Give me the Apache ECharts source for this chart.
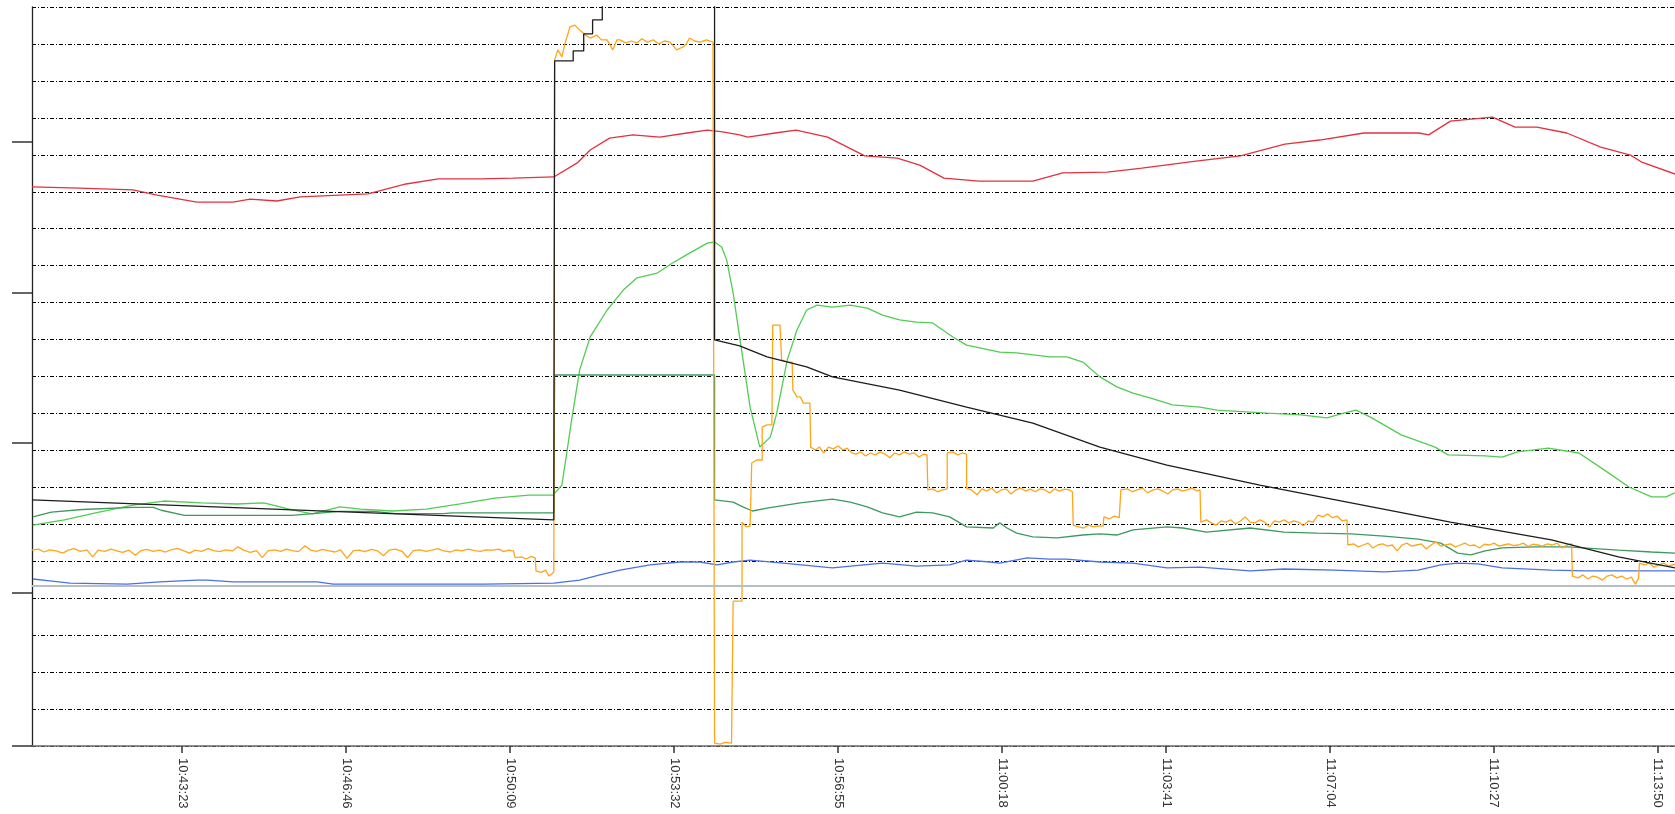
<!DOCTYPE html>
<html><head><meta charset="utf-8">
<script src="https://cdn.jsdelivr.net/npm/echarts@6/dist/echarts.min.js"></script>
<style>html,body{margin:0;padding:0;background:#fff}#c{width:1675px;height:814px}</style>
</head><body><div id="c"></div>
<script>
// Time axis: seconds after START_TIME
const START_TIME = '10:40:17';
const END_OFFSET = 2034;
const xTickLabels = ['10:43:23','10:46:46','10:50:09','10:53:32','10:56:55','11:00:18','11:03:41','11:07:04','11:10:27','11:13:50'];
// y values are in grid units (one dash-dot gridline per unit, 0..20)
const yMin = 0, yMax = 20, yStep = 1;
const yTickMarks = [0, 4.14, 8.20, 12.26, 16.35];
const refLevel = 4.33;

const redSeries = [[0,15.13],[59,15.10],[125,15.05],[155,14.91],[204,14.72],[249,14.72],[270,14.80],[303,14.75],[332,14.86],[416,14.94],[463,15.21],[503,15.35],[556,15.35],[595,15.37],[646,15.40],[675,15.78],[691,16.13],[715,16.45],[744,16.54],[777,16.48],[811,16.59],[836,16.67],[855,16.62],[876,16.54],[886,16.48],[920,16.59],[946,16.67],[985,16.48],[1031,15.97],[1071,15.91],[1074,15.89],[1099,15.72],[1129,15.37],[1172,15.29],[1239,15.29],[1276,15.51],[1331,15.53],[1374,15.64],[1441,15.83],[1496,15.97],[1551,16.29],[1594,16.40],[1649,16.59],[1717,16.59],[1729,16.54],[1756,16.91],[1808,17.02],[1836,16.75],[1863,16.75],[1900,16.59],[1942,16.21],[1979,15.99],[1992,15.81],[2034,15.48]];

const greenSeries = [[1,5.98],[40,6.12],[83,6.33],[125,6.52],[163,6.63],[210,6.58],[254,6.55],[287,6.58],[322,6.39],[347,6.28],[381,6.47],[407,6.41],[446,6.36],[488,6.41],[530,6.55],[573,6.71],[615,6.79],[645,6.79],[656,7.06],[662,7.93],[668,8.82],[678,10.18],[691,11.07],[712,11.80],[732,12.34],[749,12.67],[774,12.80],[793,13.07],[814,13.34],[836,13.61],[845,13.64],[854,13.50],[860,13.15],[868,12.26],[876,11.07],[889,9.17],[901,8.09],[914,8.36],[922,9.01],[935,10.45],[947,11.26],[959,11.80],[972,11.93],[991,11.88],[1013,11.93],[1034,11.85],[1053,11.66],[1074,11.53],[1095,11.47],[1115,11.45],[1140,11.07],[1157,10.85],[1198,10.66],[1219,10.64],[1260,10.53],[1281,10.53],[1301,10.39],[1322,9.99],[1343,9.72],[1363,9.55],[1384,9.42],[1412,9.23],[1446,9.17],[1467,9.09],[1529,9.01],[1571,8.96],[1603,8.88],[1624,9.01],[1639,9.09],[1657,8.90],[1695,8.42],[1737,8.09],[1753,7.88],[1799,7.85],[1820,7.82],[1839,7.96],[1877,8.06],[1915,7.93],[1943,7.52],[1977,7.01],[2005,6.74],[2023,6.74],[2034,6.85]];

const tealSeries = [[1,6.20],[24,6.33],[62,6.40],[125,6.46],[150,6.46],[160,6.38],[189,6.24],[322,6.24],[381,6.35],[423,6.35],[450,6.29],[509,6.29],[520,6.31],[646,6.31],[647,10.04],[845,10.04],[845,6.66],[868,6.60],[880,6.47],[892,6.36],[910,6.44],[951,6.58],[991,6.68],[1013,6.60],[1034,6.47],[1053,6.31],[1074,6.20],[1095,6.33],[1115,6.31],[1136,6.20],[1157,5.93],[1190,5.90],[1198,6.04],[1207,5.90],[1219,5.76],[1239,5.66],[1269,5.63],[1301,5.71],[1322,5.74],[1343,5.71],[1363,5.85],[1405,5.93],[1425,5.90],[1454,5.79],[1508,5.90],[1550,5.79],[1591,5.76],[1633,5.74],[1674,5.68],[1716,5.60],[1744,5.49],[1765,5.22],[1781,5.17],[1799,5.28],[1820,5.36],[1860,5.39],[1901,5.39],[1964,5.30],[2005,5.25],[2034,5.22]];

const blueSeries = [[1,4.52],[22,4.47],[47,4.41],[118,4.38],[158,4.44],[204,4.49],[217,4.49],[249,4.44],[311,4.44],[353,4.44],[373,4.38],[456,4.38],[560,4.38],[646,4.41],[678,4.49],[703,4.63],[728,4.76],[765,4.90],[802,4.98],[827,4.98],[848,4.90],[868,4.98],[889,5.03],[930,4.95],[991,4.82],[1053,4.95],[1095,4.87],[1136,4.90],[1157,5.03],[1186,4.98],[1198,4.95],[1232,5.09],[1260,5.06],[1281,5.06],[1322,4.98],[1363,4.95],[1405,4.82],[1446,4.84],[1508,4.74],[1550,4.79],[1612,4.76],[1674,4.71],[1716,4.76],[1744,4.90],[1765,4.95],[1790,4.93],[1820,4.82],[1881,4.76],[1922,4.74],[2034,4.74]];

const blackSeries = [[0,6.66],[646,6.12],[647,18.54],[670,18.54],[670,18.81],[683,18.81],[683,19.27],[694,19.27],[694,19.65],[706,19.65],[706,20.10],[716,20.10],[716,20.60],[730,20.60],[730,21.10],[845,21.50],[845,10.99],[876,10.83],[910,10.53],[959,10.26],[991,9.99],[1074,9.63],[1157,9.17],[1239,8.74],[1322,8.09],[1405,7.60],[1520,7.06],[1633,6.58],[1756,6.06],[1881,5.58],[1964,5.12],[2034,4.82]];

const orangeSeries = [[0,5.30],[8,5.33],[15,5.25],[22,5.31],[30,5.28],[38,5.22],[45,5.30],[52,5.34],[60,5.27],[68,5.31],[75,5.12],[82,5.30],[90,5.27],[98,5.33],[105,5.28],[112,5.24],[120,5.30],[128,5.16],[135,5.29],[142,5.32],[150,5.27],[158,5.30],[165,5.25],[172,5.31],[180,5.35],[188,5.28],[195,5.22],[202,5.30],[210,5.27],[218,5.34],[225,5.29],[232,5.26],[240,5.31],[248,5.28],[255,5.39],[262,5.30],[270,5.24],[278,5.29],[285,5.10],[292,5.28],[300,5.31],[308,5.27],[315,5.33],[322,5.29],[330,5.26],[338,5.42],[345,5.30],[352,5.27],[360,5.32],[368,5.28],[375,5.25],[382,5.31],[390,5.08],[398,5.29],[405,5.30],[412,5.26],[420,5.32],[428,5.28],[435,5.15],[442,5.30],[450,5.33],[458,5.27],[465,5.10],[472,5.29],[480,5.31],[488,5.27],[495,5.30],[502,5.34],[510,5.28],[518,5.25],[525,5.31],[532,5.28],[540,5.33],[548,5.29],[555,5.27],[562,5.31],[570,5.30],[578,5.33],[584,5.26],[590,5.30],[596,5.28],[598,5.10],[606,5.12],[612,5.06],[618,5.13],[623,5.09],[624,4.74],[630,4.70],[636,4.76],[640,4.60],[644,4.66],[646,4.72],[647,18.57],[651,18.84],[656,18.65],[660,19.03],[666,19.46],[672,19.51],[678,19.38],[685,19.24],[691,19.16],[699,19.24],[705,19.11],[712,19.11],[719,18.84],[724,19.11],[728,19.11],[735,19.03],[742,19.08],[749,19.03],[755,19.14],[762,19.05],[769,19.11],[776,19.00],[783,19.08],[790,19.05],[798,18.84],[806,18.92],[810,19.00],[814,19.16],[820,19.08],[827,19.05],[835,19.11],[843,19.05],[845,0.08],[852,0.05],[858,0.10],[866,0.08],[868,3.92],[879,3.92],[879,6.06],[884,5.93],[889,5.95],[891,7.66],[897,7.74],[904,7.74],[904,8.63],[910,8.69],[916,8.69],[917,11.39],[926,11.39],[928,10.45],[935,10.39],[941,10.39],[942,9.63],[947,9.45],[951,9.45],[955,9.28],[963,9.28],[964,8.09],[970,8.01],[975,8.09],[980,7.93],[986,8.09],[992,8.04],[998,8.12],[1004,8.01],[1009,8.06],[1015,7.93],[1020,7.90],[1026,7.96],[1032,7.85],[1038,7.93],[1044,7.88],[1050,7.96],[1056,7.90],[1062,7.80],[1068,7.93],[1074,7.88],[1080,7.96],[1086,7.90],[1092,7.93],[1098,7.82],[1104,7.90],[1108,7.88],[1109,6.93],[1115,6.96],[1121,6.88],[1127,6.93],[1133,6.96],[1133,7.93],[1140,7.96],[1146,7.88],[1152,7.93],[1157,7.90],[1157,6.98],[1163,6.93],[1170,6.80],[1176,6.96],[1182,6.90],[1188,6.98],[1194,6.85],[1200,6.93],[1206,6.96],[1212,6.82],[1218,6.93],[1224,6.98],[1230,6.90],[1236,6.95],[1242,6.88],[1248,6.96],[1254,6.93],[1260,6.85],[1266,6.96],[1272,6.90],[1278,6.95],[1284,6.93],[1288,6.88],[1289,5.98],[1296,5.93],[1302,5.90],[1308,5.98],[1314,5.93],[1320,5.96],[1326,5.95],[1327,6.20],[1334,6.15],[1340,6.22],[1346,6.18],[1348,6.93],[1356,6.96],[1362,6.88],[1368,6.93],[1375,6.98],[1381,6.85],[1388,6.93],[1394,6.96],[1400,6.90],[1406,6.82],[1412,6.93],[1418,6.96],[1424,6.90],[1430,6.93],[1436,6.98],[1442,6.90],[1446,6.93],[1447,6.06],[1454,6.12],[1460,6.04],[1466,5.98],[1472,6.09],[1478,6.06],[1484,6.12],[1490,6.01],[1496,6.09],[1502,6.20],[1508,6.06],[1514,6.04],[1520,6.12],[1526,6.06],[1532,5.93],[1538,6.09],[1544,6.06],[1550,6.12],[1556,6.04],[1562,6.09],[1568,6.06],[1574,5.96],[1580,6.09],[1586,6.06],[1592,6.25],[1598,6.20],[1604,6.28],[1610,6.18],[1616,6.22],[1622,6.09],[1628,6.12],[1629,5.44],[1636,5.47],[1642,5.39],[1648,5.44],[1654,5.49],[1660,5.36],[1666,5.44],[1672,5.47],[1678,5.41],[1684,5.44],[1690,5.28],[1696,5.44],[1702,5.49],[1708,5.41],[1714,5.44],[1720,5.47],[1726,5.33],[1732,5.44],[1738,5.52],[1744,5.41],[1750,5.44],[1756,5.47],[1762,5.39],[1768,5.44],[1774,5.49],[1780,5.42],[1786,5.44],[1792,5.36],[1798,5.46],[1804,5.44],[1810,5.49],[1816,5.41],[1822,5.44],[1828,5.47],[1834,5.42],[1840,5.44],[1846,5.49],[1852,5.40],[1858,5.46],[1864,5.44],[1870,5.41],[1876,5.47],[1882,5.44],[1888,5.49],[1894,5.36],[1900,5.44],[1906,5.47],[1907,4.60],[1914,4.55],[1920,4.63],[1926,4.52],[1932,4.60],[1938,4.57],[1944,4.49],[1950,4.60],[1956,4.63],[1962,4.55],[1968,4.60],[1974,4.52],[1980,4.57],[1985,4.38],[1989,4.55],[1990,4.95],[1996,4.90],[2002,4.95],[2008,4.84],[2014,4.90],[2020,4.95],[2026,4.87],[2034,4.92]];

function toSec(s){const p=s.split(':').map(Number);return p[0]*3600+p[1]*60+p[2];}
const t0 = toSec(START_TIME);
const xTickValues = xTickLabels.map(s => toSec(s) - t0);
function fmtTime(v){
  const s = Math.round(v + t0);
  const h = Math.floor(s/3600), m = Math.floor((s%3600)/60), ss = s%60;
  return String(h).padStart(2,'0')+':'+String(m).padStart(2,'0')+':'+String(ss).padStart(2,'0');
}
const FONT = '"Liberation Sans", Arial, sans-serif';
function line(name, data, color, extra){
  return Object.assign({
    name, type:'line', data, showSymbol:false, symbol:'none', silent:true,
    lineStyle:{color, width:1.3}, itemStyle:{color}, clip:true, animation:false
  }, extra||{});
}
const chart = echarts.init(document.getElementById('c'), null, {renderer:'canvas'});
chart.setOption({
  animation:false,
  backgroundColor:'#ffffff',
  grid:{left:32, right:0, top:7, bottom:68, containLabel:false},
  xAxis:{
    type:'value', min:0, max:END_OFFSET,
    axisLine:{show:true, onZero:false, lineStyle:{color:'#6a6a6a', width:1.5}},
    axisTick:{show:true, customValues:xTickValues, length:7, lineStyle:{color:'#333', width:1.5}},
    axisLabel:{show:true, customValues:xTickValues, rotate:-90, margin:12, formatter:fmtTime,
      color:'#333', fontSize:13, fontFamily:FONT},
    splitLine:{show:false}
  },
  yAxis:[{
    type:'value', min:yMin, max:yMax, interval:yStep, position:'left',
    axisLine:{show:true, onZero:false, lineStyle:{color:'#222', width:1.3}},
    axisTick:{show:false}, axisLabel:{show:false},
    splitLine:{show:true, lineStyle:{color:'#000', width:1, type:[4,2,1,2]}}
  },{
    type:'value', min:yMin, max:yMax, position:'left',
    axisLine:{show:false},
    axisTick:{show:true, customValues:yTickMarks, length:20, lineStyle:{color:'#333', width:1.5}},
    axisLabel:{show:false}, splitLine:{show:false}
  }],
  series:[
    line('blue', blueSeries, '#4a70e6', {markLine:{silent:true, symbol:'none', animation:false,
      label:{show:false}, lineStyle:{color:'#b6bec6', width:2, type:'solid'}, data:[{yAxis:refLevel}]}}),
    line('red', redSeries, '#e2323f'),
    line('green', greenSeries, '#52cc52'),
    line('teal', tealSeries, '#3d9a5e'),
    line('orange', orangeSeries, '#ffa51a'),
    line('black', blackSeries, '#1c1c1c')
  ]
});
</script></body></html>
